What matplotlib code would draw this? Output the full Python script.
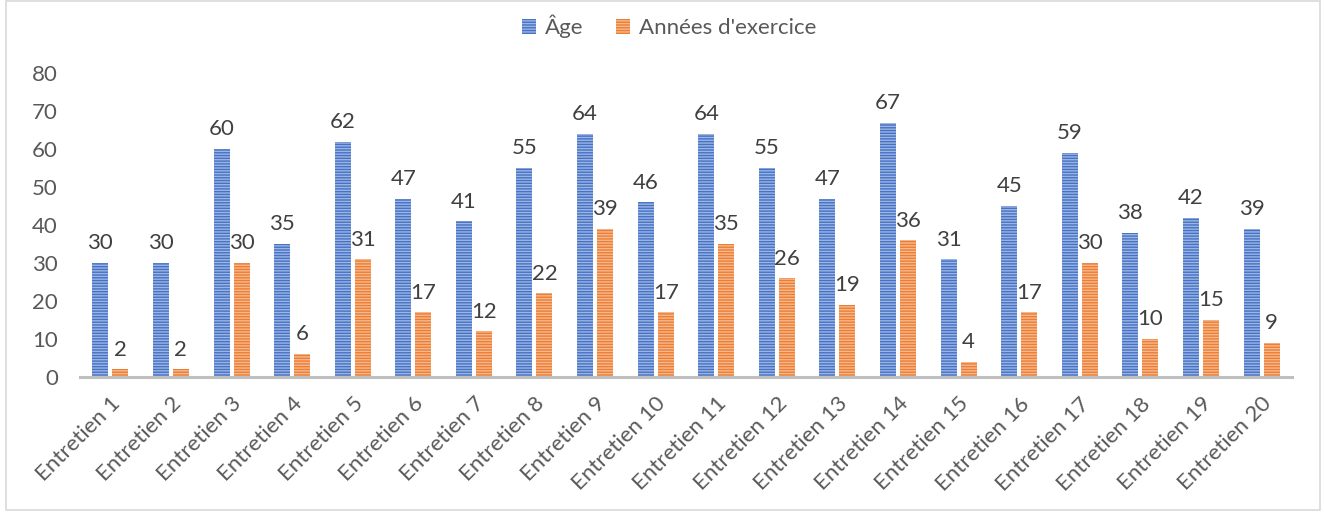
import matplotlib.pyplot as plt
import numpy as np
from matplotlib.patches import Rectangle

plt.rcParams['font.family'] = ['Lato', 'DejaVu Sans']
plt.rcParams['hatch.linewidth'] = 1.0

# Data
categories = [f"Entretien {i}" for i in range(1, 21)]
age = [30, 30, 60, 35, 62, 47, 41, 55, 64, 46, 64, 55, 47, 67, 31, 45, 59, 38, 42, 39]
annees = [2, 2, 30, 6, 31, 17, 12, 22, 39, 17, 35, 26, 19, 36, 4, 17, 30, 10, 15, 9]
series_names = ['Âge', "Années d'exercice"]

text_color = '#595959'
blue = '#4472C4'
blue_light = '#9DB5E3'
orange = '#ED7D31'
orange_light = '#F6B890'
fs = 16

fig = plt.figure(figsize=(13.25, 5.12), dpi=100)
ax = fig.add_axes([0.0604, 0.2637, 0.9146, 0.5933])

x = np.arange(len(categories))
w = 0.264
off = 0.165

b1 = ax.bar(x - off, age, width=w, color=blue, edgecolor=blue_light,
            linewidth=0, hatch='------', label=series_names[0])
b2 = ax.bar(x + off, annees, width=w, color=orange, edgecolor=orange_light,
            linewidth=0, hatch='------', label=series_names[1])

ax.bar_label(b1, padding=7, fontsize=fs, color='#404040')
ax.bar_label(b2, padding=7, fontsize=fs, color='#404040')

ax.set_xlim(-0.5, len(categories) - 0.5)
ax.set_ylim(0, 80)
ax.set_yticks(range(0, 81, 10))
ax.set_xticks(x)
ax.set_xticklabels(categories, rotation=45, ha='right', rotation_mode='anchor')
ax.tick_params(axis='y', length=0, pad=16, labelsize=fs, labelcolor=text_color)
ax.tick_params(axis='x', length=0, pad=12, labelsize=fs, labelcolor=text_color)

for s in ['top', 'right', 'left']:
    ax.spines[s].set_visible(False)
ax.spines['bottom'].set_color('#BFBFBF')
ax.spines['bottom'].set_linewidth(2.2)

leg = fig.legend(loc='upper center', bbox_to_anchor=(0.505, 1.01), ncol=2,
                 frameon=False, fontsize=fs, handlelength=0.6, handleheight=0.6,
                 handletextpad=0.4, columnspacing=1.5)
for t in leg.get_texts():
    t.set_color(text_color)

# light frame around the chart area
fig.patches.append(Rectangle((6 / 1325, 2 / 512), 1314 / 1325, 509 / 512,
                             transform=fig.transFigure, fill=False,
                             edgecolor='#D9D9D9', linewidth=1.2))

fig.savefig('out.png', dpi=100)
